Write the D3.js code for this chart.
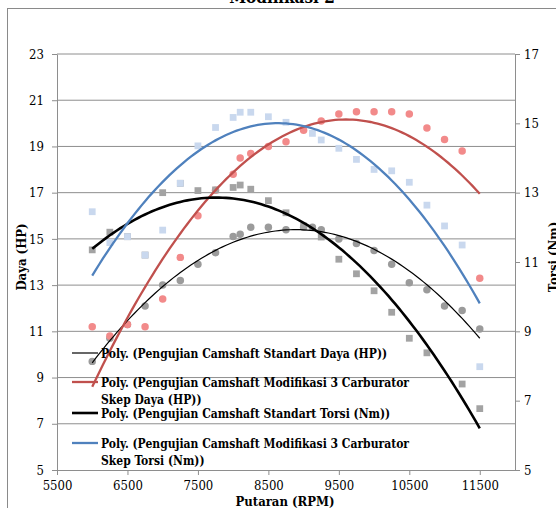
<!DOCTYPE html>
<html>
<head>
<meta charset="utf-8">
<script src="https://cdn.jsdelivr.net/npm/d3@7"></script>
<style>
  body { margin: 0; background: #fff; }
  svg text { font-family: "DejaVu Serif Condensed", "DejaVu Serif", serif; }
</style>
</head>
<body>
<div id="chart"></div>
<script>
// Data
var rpm = [6000, 6250, 6500, 6750, 7000, 7250, 7500, 7750, 8000, 8100, 8250, 8500, 8750,
           9000, 9125, 9250, 9500, 9750, 10000, 10250, 10500, 10750, 11000, 11250, 11500];
var dayaStandart   = [9.7, 10.7, 11.3, 12.1, 13.0, 13.2, 13.9, 14.4, 15.1, 15.2, 15.5, 15.5, 15.4,
                      15.5, 15.5, 15.4, 15.0, 14.8, 14.5, 13.9, 13.1, 12.8, 12.1, 11.9, 11.1];
var dayaModifikasi = [11.2, 10.8, 11.3, 11.2, 12.4, 14.2, 16.0, 17.1, 17.8, 18.5, 18.7, 19.0, 19.2,
                      19.7, null, 20.1, 20.4, 20.5, 20.5, 20.5, 20.4, 19.8, 19.3, 18.8, 13.3];
var torsiStandart  = [11.35, 11.86, 11.73, 11.2, 13.0, 13.27, 13.06, 13.08, 13.15, 13.22, 13.1, 12.77, 12.42,
                      12.04, null, 11.72, 11.08, 10.66, 10.17, 9.55, 8.8, 8.38, null, 7.48, 6.77];
var torsiModifikasi = [12.45, 11.56, 11.73, 11.2, 11.92, 13.27, 14.35, 14.88, 15.17, 15.32, 15.32, 15.19, 15.03,
                       null, 14.71, 14.52, 14.28, 13.96, 13.67, 13.63, 13.3, 12.64, 12.04, 11.49, 7.98];

var xTicks = [5500, 6500, 7500, 8500, 9500, 10500, 11500];
var dayaTicks = [5, 7, 9, 11, 13, 15, 17, 19, 21, 23];
var torsiTicks = [5, 7, 9, 11, 13, 15, 17];

var legendLabels = [
  ['Poly. (Pengujian Camshaft Standart Daya (HP))'],
  ['Poly. (Pengujian Camshaft Modifikasi 3 Carburator', 'Skep Daya (HP))'],
  ['Poly. (Pengujian Camshaft Standart Torsi (Nm))'],
  ['Poly. (Pengujian Camshaft Modifikasi 3 Carburator', 'Skep Torsi (Nm))']
];

var width = 556, height = 508;
var svg = d3.select('#chart').append('svg')
  .attr('width', width).attr('height', height);

var x = d3.scaleLinear().domain([5500, 12000]).range([57, 515]);
var yDaya = d3.scaleLinear().domain([5, 23]).range([470, 54]);
var yTorsi = d3.scaleLinear().domain([5, 17]).range([470, 54]);

// outer frame and title (cut off at the top)
svg.append('rect')
  .attr('x', 7.5).attr('y', 8.5).attr('width', 600).attr('height', 600)
  .attr('fill', 'none').attr('stroke', '#8a8a8a');
svg.append('text')
  .attr('x', 282).attr('y', 3)
  .attr('text-anchor', 'middle')
  .style('font-weight', 'bold').style('font-size', '17px')
  .text('Modifikasi 2');

// grid lines
svg.append('g').selectAll('line')
  .data(dayaTicks.slice(1))
  .enter().append('line')
  .attr('x1', x(5500)).attr('x2', x(12000))
  .attr('y1', function(d){ return yDaya(d); })
  .attr('y2', function(d){ return yDaya(d); })
  .attr('stroke', '#8e8e8e').attr('stroke-width', 1);

// axes
function styleAxis(g) {
  g.selectAll('path, line').attr('stroke', '#8e8e8e');
  g.selectAll('text').attr('fill', '#000').style('font-size', '13px');
}
svg.append('g').attr('transform', 'translate(0,470)')
  .call(d3.axisBottom(x).tickValues(xTicks).tickSize(5).tickSizeOuter(0).tickFormat(d3.format('d')).tickPadding(6))
  .call(styleAxis);
svg.append('g').attr('transform', 'translate(57,0)')
  .call(d3.axisLeft(yDaya).tickValues(dayaTicks).tickSize(5).tickSizeOuter(0).tickPadding(8))
  .call(styleAxis);
svg.append('g').attr('transform', 'translate(515,0)')
  .call(d3.axisRight(yTorsi).tickValues(torsiTicks).tickSize(5).tickSizeOuter(0).tickPadding(4))
  .call(styleAxis);

// axis titles
svg.append('text')
  .attr('transform', 'translate(26,257) rotate(-90)')
  .attr('text-anchor', 'middle')
  .style('font-weight', 'bold').style('font-size', '13px')
  .text('Daya (HP)');
svg.append('text')
  .attr('transform', 'translate(558,257) rotate(-90)')
  .attr('text-anchor', 'middle')
  .style('font-weight', 'bold').style('font-size', '13px')
  .text('Torsi (Nm)');
svg.append('text')
  .attr('x', 285).attr('y', 506)
  .attr('text-anchor', 'middle')
  .style('font-weight', 'bold').style('font-size', '13px')
  .text('Putaran (RPM)');

function points(values) {
  return rpm.map(function(r, i){ return {x: r, y: values[i]}; })
    .filter(function(d){ return d.y != null; });
}

// quadratic least squares, the way the spreadsheet trendline is made
function polyFit(pts) {
  var n = pts.length, sx = 0, sx2 = 0, sx3 = 0, sx4 = 0, sy = 0, sxy = 0, sx2y = 0;
  pts.forEach(function(p){
    var t = (p.x - 9000) / 1000;
    sx += t; sx2 += t*t; sx3 += t*t*t; sx4 += t*t*t*t;
    sy += p.y; sxy += t*p.y; sx2y += t*t*p.y;
  });
  var A = [[n, sx, sx2, sy], [sx, sx2, sx3, sxy], [sx2, sx3, sx4, sx2y]];
  for (var i = 0; i < 3; i++) {
    for (var k = i + 1; k < 3; k++) {
      var f = A[k][i] / A[i][i];
      for (var j = i; j < 4; j++) A[k][j] -= f * A[i][j];
    }
  }
  var c = [0, 0, 0];
  for (var i = 2; i >= 0; i--) {
    var s = A[i][3];
    for (var j = i + 1; j < 3; j++) s -= A[i][j] * c[j];
    c[i] = s / A[i][i];
  }
  return function(xv){ var t = (xv - 9000) / 1000; return c[0] + c[1]*t + c[2]*t*t; };
}

var series = [
  {values: dayaStandart, y: yDaya, shape: 'circle', fill: '#9b9b9b', line: '#000', lw: 1.2},
  {values: dayaModifikasi, y: yDaya, shape: 'circle', fill: '#f28a8a', line: '#c0504d', lw: 2.3},
  {values: torsiStandart, y: yTorsi, shape: 'square', fill: '#a3a3a3', line: '#000', lw: 2.6},
  {values: torsiModifikasi, y: yTorsi, shape: 'square', fill: '#c9d8ee', line: '#4f81bd', lw: 2.3}
];

// markers
series.forEach(function(s){
  var sym = d3.symbol().type(s.shape === 'circle' ? d3.symbolCircle : d3.symbolSquare)
    .size(s.shape === 'circle' ? 44 : 46);
  svg.append('g').selectAll('path')
    .data(points(s.values))
    .enter().append('path')
    .attr('transform', function(d){ return 'translate(' + x(d.x) + ',' + s.y(d.y) + ')'; })
    .attr('d', sym)
    .attr('fill', s.fill);
});

// trendlines
series.forEach(function(s){
  var pts = points(s.values);
  var fit = polyFit(pts);
  var ext = d3.extent(pts, function(d){ return d.x; });
  var xs = d3.range(ext[0], ext[1] + 1, 50);
  svg.append('path')
    .datum(xs)
    .attr('d', d3.line().x(function(d){ return x(d); }).y(function(d){ return s.y(fit(d)); }))
    .attr('fill', 'none')
    .attr('stroke', s.line)
    .attr('stroke-width', s.lw);
});

// legend, no box
var legendRows = [353, 382, 413, 443];
legendLabels.forEach(function(lines, i){
  var s = series[i];
  var g = svg.append('g').attr('transform', 'translate(0,' + legendRows[i] + ')');
  g.append('line')
    .attr('x1', 72).attr('x2', 98).attr('y1', 0).attr('y2', 0)
    .attr('stroke', s.line).attr('stroke-width', s.lw);
  lines.forEach(function(t, j){
    g.append('text')
      .attr('x', 101).attr('y', 4.5 + j * 17)
      .style('font-weight', 'bold').style('font-size', '12px')
      .text(t);
  });
});
</script>
</body>
</html>
